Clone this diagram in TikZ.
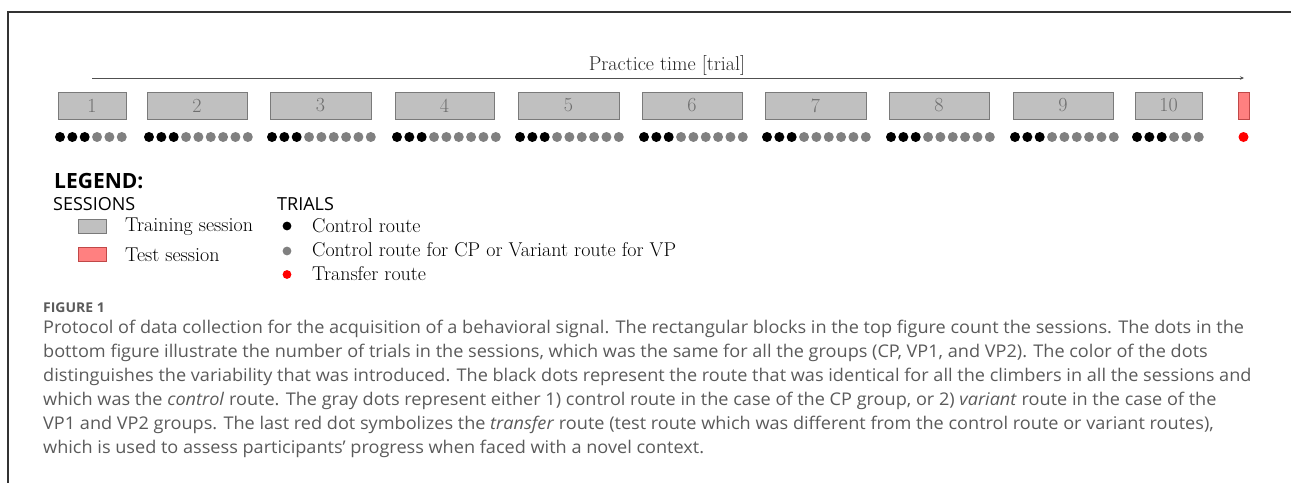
\documentclass[tikz,border=0pt]{standalone}
\usepackage{fontspec}
\usetikzlibrary{arrows.meta}
\newfontfamily\osans{Open Sans}
\newfontfamily\capfont[FakeStretch=1.035]{Open Sans}
\definecolor{boxfill}{HTML}{C0C0C0}
\definecolor{boxline}{HTML}{7A7A7A}
\definecolor{numcol}{HTML}{6E6E6E}
\definecolor{dotgray}{HTML}{808080}
\definecolor{redfill}{HTML}{FF8080}
\definecolor{redline}{HTML}{C04848}
\definecolor{captext}{HTML}{5A5A5A}
\definecolor{framecol}{HTML}{333333}
\definecolor{arrowcol}{HTML}{505050}
\tikzset{
  sessbox/.style={draw=boxline, fill=boxfill, line width=0.8pt, minimum height=27pt, inner sep=0pt,
    font=\fontsize{20}{22}\selectfont, text=numcol},
  testbox/.style={draw=redline, fill=redfill, line width=0.8pt, inner sep=0pt},
  blackdot/.style={circle, fill=black, inner sep=0pt, minimum size=10pt},
  graydot/.style={circle, fill=dotgray, inner sep=0pt, minimum size=10pt},
  reddot/.style={circle, fill=red, inner sep=0pt, minimum size=10pt},
  legdot/.style={circle, inner sep=0pt, minimum size=8.8pt},
  legtext/.style={anchor=base west, inner sep=0pt, font=\fontsize{20}{22}\selectfont},
  headtext/.style={anchor=base west, inner sep=0pt, font=\osans\fontsize{18}{20}\selectfont},
  captext/.style={anchor=base west, inner sep=0pt, text=captext, font=\capfont\fontsize{17.5}{19}\selectfont},
  frameline/.style={draw=framecol, line width=1.1pt},
}
\begin{document}
\begin{tikzpicture}[x=1pt, y=-1pt]
\useasboundingbox (0,0) rectangle (1291,483);
% frame
\coordinate (fr1) at (1291,12);
\coordinate (fr2) at (8,12);
\coordinate (fr3) at (8,483);
\draw[frameline] (fr1) -- (fr2) -- (fr3);
% time arrow
\coordinate (ta) at (92,78);
\coordinate (tb) at (1244,78);
\draw[arrowcol, line width=0.9pt, -{Stealth[length=4pt,width=3.5pt]}] (ta) -- (tb);
\node[anchor=base, inner sep=0pt, font=\fontsize{20}{22}\selectfont, text=black!85] (ptime) at (667,70) {Practice time [trial]};
% sessions
\foreach \i/\l/\r/\n in {1/58/126/6, 2/147/247/9, 3/270/371/9, 4/395/494/9, 5/518/619/9,
  6/642/742/9, 7/765/866/9, 8/889/989/9, 9/1013/1113/9, 10/1135/1202/6}{
  \node[sessbox, minimum width={(\r-\l)*1pt}] (s\i) at ({(\l+\r)/2},105.5) {\i};
  \foreach \k in {1,...,\n}{
    \ifnum\k<4
      \node[blackdot] (d\i-\k) at ({\l+2+(\k-1)*12.35},137) {};
    \else
      \node[graydot] (d\i-\k) at ({\l+2+(\k-1)*12.35},137) {};
    \fi
  }
}
\node[testbox, minimum width=11pt, minimum height=27pt] (test) at (1243.5,105.5) {};
\node[reddot] (dtest) at (1243.5,137) {};
% legend
\node[anchor=base west, inner sep=0pt, font=\osans\bfseries\fontsize{21}{23}\selectfont] (legend) at (54,188) {LEGEND:};
\node[headtext] (sessions) at (53,210) {SESSIONS};
\node[headtext] (trials) at (277,210) {TRIALS};
\node[sessbox, minimum width=28pt, minimum height=14pt] (legtrain) at (92,226) {};
\node[testbox, minimum width=28pt, minimum height=14pt] (legtest) at (92,254) {};
\node[legtext] (ltrain) at (125,231.5) {Training session};
\node[legtext] (ltest) at (125,261) {Test session};
\node[legdot, fill=black] (lblack) at (287,226) {};
\node[legdot, fill=dotgray] (lgray) at (287,251) {};
\node[legdot, fill=red] (lred) at (287,274.5) {};
\node[legtext] (lctrl) at (312,232.5) {Control route};
\node[legtext] (lvar) at (312,256.5) {Control route for CP or Variant route for VP};
\node[legtext] (ltrans) at (312,280.5) {Transfer route};
% caption
\node[anchor=base west, inner sep=0pt, text=captext, font=\capfont\bfseries\fontsize{13.5}{15}\selectfont] (fig) at (43,312) {FIGURE 1};
\node[captext] (c1) at (43,333) {Protocol of data collection for the acquisition of a behavioral signal. The rectangular blocks in the top figure count the sessions. The dots in the};
\node[captext] (c2) at (43,357) {bottom figure illustrate the number of trials in the sessions, which was the same for all the groups (CP, VP1, and VP2). The color of the dots};
\node[captext] (c3) at (43,381) {distinguishes the variability that was introduced. The black dots represent the route that was identical for all the climbers in all the sessions and};
\node[captext] (c4) at (43,405) {which was the \textit{control} route. The gray dots represent either 1) control route in the case of the CP group, or 2) \textit{variant} route in the case of the};
\node[captext] (c5) at (43,429) {VP1 and VP2 groups. The last red dot symbolizes the \textit{transfer} route (test route which was different from the control route or variant routes),};
\node[captext] (c6) at (43,453) {which is used to assess participants’ progress when faced with a novel context.};
\end{tikzpicture}
\end{document}
